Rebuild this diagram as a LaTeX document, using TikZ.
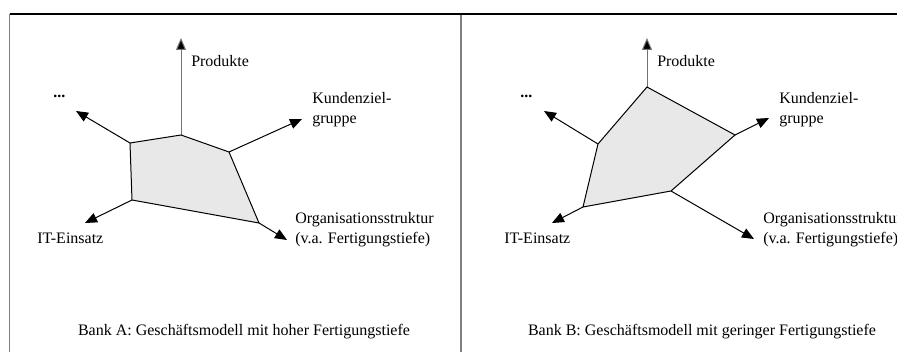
\documentclass[tikz,border=0pt]{standalone}
\usepackage{fontspec}
\setmainfont{Liberation Serif}
\usetikzlibrary{arrows.meta}
\begin{document}
\begin{tikzpicture}[x=0.75pt,y=-0.75pt,
  frameline/.style={line width=0.9pt,gray},
  topline/.style={line width=0.9pt,black},
  axis/.style={line width=0.75pt,black,-{Triangle[length=9pt,width=7.5pt]}},
  gaxis/.style={axis,draw=gray!90!black,-{Triangle[length=9pt,width=7.5pt,fill=black]}},
  poly/.style={draw=black,line width=0.75pt,fill=black!9,line join=miter},
  lbl/.style={font=\fontsize{12}{15}\selectfont,inner sep=0pt,anchor=base west,align=left},
  captext/.style={font=\fontsize{12}{15}\selectfont,inner sep=0pt,anchor=base}]
\useasboundingbox (0,0) rectangle (897,352);
\clip (0,0) rectangle (897,352);
% frame
\coordinate (tl) at (9.5,14);
\coordinate (tr) at (897,14);
\coordinate (bl) at (9.5,352);
\coordinate (tm) at (461,14);
\coordinate (bm) at (461,352);
\draw[frameline] (tl) -- (bl);
\draw[frameline] (tm) -- (bm);
\draw[topline] (tl) -- (tr);

% ---------- Panel A ----------
\coordinate (aP) at (181,135);
\coordinate (aK) at (229,152);
\coordinate (aO) at (259,223);
\coordinate (aI) at (132,200);
\coordinate (aX) at (130,143);
\coordinate (aPt) at (181,38);
\coordinate (aKt) at (302,119);
\coordinate (aOt) at (287,240);
\coordinate (aIt) at (85,223);
\coordinate (aXt) at (76,111);
\fill[black!9] (aX) -- (aP) -- (aK) -- (aO) -- (aI) -- cycle;
\draw[gaxis] (aP) -- (aPt);
\draw[axis] (aK) -- (aKt);
\draw[axis] (aO) -- (aOt);
\draw[axis] (aI) -- (aIt);
\draw[axis] (aX) -- (aXt);
\draw[poly] (aX) -- (aP) -- (aK) -- (aO) -- (aI) -- cycle;
\node[lbl] (aPl) at (191,67) {Produkte};
\node[lbl] (aKl) at (312,124) {Kundenziel-\\gruppe};
\node[lbl] (aOl) at (295,244) {Organisationsstruktur\\(v.a. Fertigungstiefe)};
\node[lbl] (aIl) at (37,244) {IT-Einsatz};
\node[lbl] (aXl) at (53,98) {\textbf{...}};
\node[captext] (aC) at (244,336) {Bank A: Geschäftsmodell mit hoher Fertigungstiefe};

% ---------- Panel B ----------
\coordinate (bP) at (647,87);
\coordinate (bK) at (735,135);
\coordinate (bO) at (671,191);
\coordinate (bI) at (583,207);
\coordinate (bX) at (598,144);
\coordinate (bPt) at (647,38);
\coordinate (bKt) at (769,118);
\coordinate (bOt) at (754,239);
\coordinate (bIt) at (552,223);
\coordinate (bXt) at (544,111);
\fill[black!9] (bX) -- (bP) -- (bK) -- (bO) -- (bI) -- cycle;
\draw[gaxis] (bP) -- (bPt);
\draw[axis] (bK) -- (bKt);
\draw[axis] (bO) -- (bOt);
\draw[axis] (bI) -- (bIt);
\draw[axis] (bX) -- (bXt);
\draw[poly] (bX) -- (bP) -- (bK) -- (bO) -- (bI) -- cycle;
\node[lbl] (bPl) at (657,67) {Produkte};
\node[lbl] (bKl) at (779,124) {Kundenziel-\\gruppe};
\node[lbl] (bOl) at (763,244) {Organisationsstruktur\\(v.a. Fertigungstiefe)};
\node[lbl] (bIl) at (504,244) {IT-Einsatz};
\node[lbl] (bXl) at (520,98) {\textbf{...}};
\node[captext] (bC) at (702,336) {Bank B: Geschäftsmodell mit geringer Fertigungstiefe};
\end{tikzpicture}
\end{document}
